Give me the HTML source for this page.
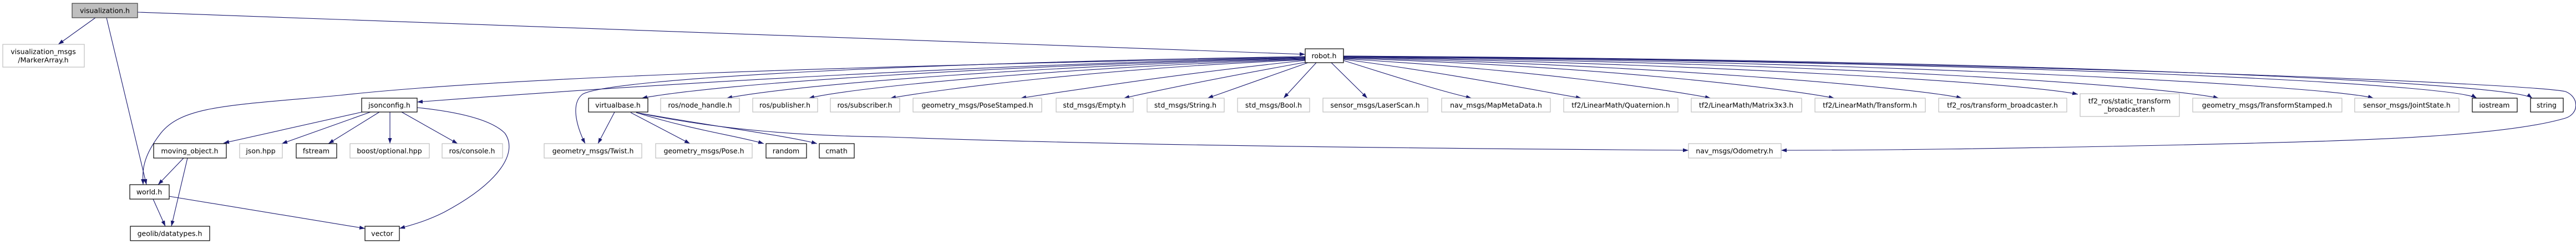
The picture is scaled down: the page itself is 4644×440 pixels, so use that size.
<!DOCTYPE html>
<html><head><meta charset="utf-8"><style>
html,body{margin:0;padding:0;background:#fff;}
svg{display:block;}
text{font-family:"DejaVu Sans","Liberation Sans",sans-serif;font-size:12.5px;fill:#000;text-anchor:middle;dominant-baseline:central;}
.g{fill:#fff;stroke:#bfbfbf;stroke-width:1.2;}
.b{fill:#fff;stroke:#000;stroke-width:1.2;}
.e{fill:none;stroke:#191970;stroke-width:1.1;marker-end:url(#a);}
</style></head><body>
<svg width="4644" height="440" viewBox="0 0 4644 440" xmlns="http://www.w3.org/2000/svg">
<defs><marker id="a" markerUnits="userSpaceOnUse" viewBox="0 0 10 7" refX="10" refY="3.5" markerWidth="10" markerHeight="7" orient="auto"><path d="M0,0 L10,3.5 L0,7 z" fill="#191970"/></marker></defs>

<!-- edges -->
<path class="e" d="M248,22 L2353,98"/>
<path class="e" d="M172,32 L105,80"/>
<path class="e" d="M192,32 C215,130 245,250 264,333"/>
<path class="e" d="M2353,104 C1800,115 1200,150 752,184"/>
<path class="e" d="M2353,103 C1500,120 900,140 612,172 C418,190 330,190 290,240 C255,285 257,310 258,333"/>
<path class="e" d="M2353,102 C1700,112 1100,140 1050,170 C1025,190 1045,240 1055,259"/>
<path class="e" d="M2353,105 C1800,118 1300,150 1157,177"/>
<path class="e" d="M2353,106 C1900,118 1450,150 1310,177"/>
<path class="e" d="M2353,107 C1950,120 1550,155 1458,177"/>
<path class="e" d="M2353,108 C2000,122 1700,160 1605,177"/>
<path class="e" d="M2353,109 C2150,130 1950,160 1840,177"/>
<path class="e" d="M2355,112 C2200,140 2100,160 2026,177"/>
<path class="e" d="M2358,113 L2177,177"/>
<path class="e" d="M2373,113 L2314,177"/>
<path class="e" d="M2400,113 L2465,177"/>
<path class="e" d="M2422,109 C2520,140 2600,165 2653,177"/>
<path class="e" d="M2422,107 C2600,130 2780,165 2851,177"/>
<path class="e" d="M2422,106 C2750,125 3000,160 3084,177"/>
<path class="e" d="M2422,105 C2900,120 3220,160 3307,177"/>
<path class="e" d="M2422,104 C3000,118 3450,158 3537,177"/>
<path class="e" d="M2422,103 C3100,116 3650,150 3746,170"/>
<path class="e" d="M2422,103 C3300,112 3900,155 4000,177"/>
<path class="e" d="M2422,102 C3400,110 4200,155 4279,177"/>
<path class="e" d="M2422,102 C3600,110 4420,150 4465,177"/>
<path class="e" d="M2422,101 C3700,108 4530,150 4565,177"/>
<path class="e" d="M2422,101 C3600,110 4550,150 4625,165 C4650,175 4650,205 4625,213 C4500,250 4200,255 3900,262 C3600,268 3400,271 3211,271"/>
<!-- jsonconfig -->
<path class="e" d="M653,202 L403,258"/>
<path class="e" d="M668,202 L508,259"/>
<path class="e" d="M684,202 L592,259"/>
<path class="e" d="M703,202 L703,259"/>
<path class="e" d="M724,202 L825,259"/>
<path class="e" d="M752,194 C800,199 880,210 910,240 C935,275 900,330 800,383 C770,398 745,405 720,412"/>
<!-- moving_object / world -->
<path class="e" d="M331,285 L285,333"/>
<path class="e" d="M338,285 L309,408"/>
<path class="e" d="M276,359 L298,408"/>
<path class="e" d="M305,354 L658,412"/>
<!-- virtualbase -->
<path class="e" d="M1108,202 L1078,259"/>
<path class="e" d="M1137,203 L1244,259"/>
<path class="e" d="M1147,203 C1250,235 1330,245 1377,259"/>
<path class="e" d="M1147,203 C1300,230 1420,245 1473,259"/>
<path class="e" d="M1147,203 C1300,235 1450,245 1600,247 C1900,258 2300,266 3044,271"/>

<!-- nodes -->
<rect x="130" y="6" width="118" height="26" fill="#bfbfbf" stroke="#404040" stroke-width="1.2"/><text x="189" y="19">visualization.h</text>
<rect class="g" x="5" y="80" width="147" height="41"/><text x="78" y="93">visualization_msgs</text><text x="78" y="108">/MarkerArray.h</text>
<rect class="b" x="2353" y="88" width="69" height="25"/><text x="2387" y="100.5">robot.h</text>

<rect class="b" x="652" y="177" width="100" height="25"/><text x="702" y="189.5">jsonconfig.h</text>
<rect class="b" x="1061" y="177" width="107" height="25"/><text x="1114" y="189.5">virtualbase.h</text>
<rect class="g" x="1191" y="177" width="142" height="25"/><text x="1262" y="189.5">ros/node_handle.h</text>
<rect class="g" x="1357" y="177" width="117" height="25"/><text x="1415" y="189.5">ros/publisher.h</text>
<rect class="g" x="1497" y="177" width="125" height="25"/><text x="1559" y="189.5">ros/subscriber.h</text>
<rect class="g" x="1646" y="177" width="232" height="25"/><text x="1762" y="189.5">geometry_msgs/PoseStamped.h</text>
<rect class="g" x="1904" y="177" width="139" height="25"/><text x="1973" y="189.5">std_msgs/Empty.h</text>
<rect class="g" x="2068" y="177" width="139" height="25"/><text x="2137" y="189.5">std_msgs/String.h</text>
<rect class="g" x="2231" y="177" width="130" height="25"/><text x="2296" y="189.5">std_msgs/Bool.h</text>
<rect class="g" x="2385" y="177" width="189" height="25"/><text x="2479" y="189.5">sensor_msgs/LaserScan.h</text>
<rect class="g" x="2599" y="177" width="196" height="25"/><text x="2697" y="189.5">nav_msgs/MapMetaData.h</text>
<rect class="g" x="2819" y="177" width="206" height="25"/><text x="2922" y="189.5">tf2/LinearMath/Quaternion.h</text>
<rect class="g" x="3049" y="177" width="199" height="25"/><text x="3148" y="189.5">tf2/LinearMath/Matrix3x3.h</text>
<rect class="g" x="3272" y="177" width="199" height="25"/><text x="3371" y="189.5">tf2/LinearMath/Transform.h</text>
<rect class="g" x="3495" y="177" width="231" height="25"/><text x="3610" y="189.5">tf2_ros/transform_broadcaster.h</text>
<rect class="g" x="3750" y="169" width="179" height="41"/><text x="3839" y="182">tf2_ros/static_transform</text><text x="3839" y="197">_broadcaster.h</text>
<rect class="g" x="3953" y="177" width="269" height="25"/><text x="4087" y="189.5">geometry_msgs/TransformStamped.h</text>
<rect class="g" x="4245" y="177" width="188" height="25"/><text x="4339" y="189.5">sensor_msgs/JointState.h</text>
<rect class="b" x="4457" y="177" width="81" height="25"/><text x="4497" y="189.5">iostream</text>
<rect class="b" x="4562" y="177" width="59" height="25"/><text x="4591" y="189.5">string</text>

<rect class="b" x="277" y="259" width="131" height="26"/><text x="342" y="272">moving_object.h</text>
<rect class="g" x="432" y="259" width="77" height="26"/><text x="470" y="272">json.hpp</text>
<rect class="b" x="534" y="259" width="73" height="26"/><text x="570" y="272">fstream</text>
<rect class="g" x="631" y="259" width="143" height="26"/><text x="702" y="272">boost/optional.hpp</text>
<rect class="g" x="797" y="259" width="109" height="26"/><text x="851" y="272">ros/console.h</text>
<rect class="g" x="981" y="259" width="176" height="26"/><text x="1069" y="272">geometry_msgs/Twist.h</text>
<rect class="g" x="1182" y="259" width="174" height="26"/><text x="1269" y="272">geometry_msgs/Pose.h</text>
<rect class="b" x="1381" y="259" width="73" height="26"/><text x="1417" y="272">random</text>
<rect class="b" x="1477" y="259" width="63" height="26"/><text x="1508" y="272">cmath</text>
<rect class="g" x="3044" y="259" width="167" height="26"/><text x="3127" y="272">nav_msgs/Odometry.h</text>

<rect class="b" x="234" y="333" width="71" height="26"/><text x="269" y="346">world.h</text>
<rect class="b" x="235" y="408" width="143" height="26"/><text x="306" y="421">geolib/datatypes.h</text>
<rect class="b" x="658" y="408" width="62" height="26"/><text x="689" y="421">vector</text>
</svg>
</body></html>
